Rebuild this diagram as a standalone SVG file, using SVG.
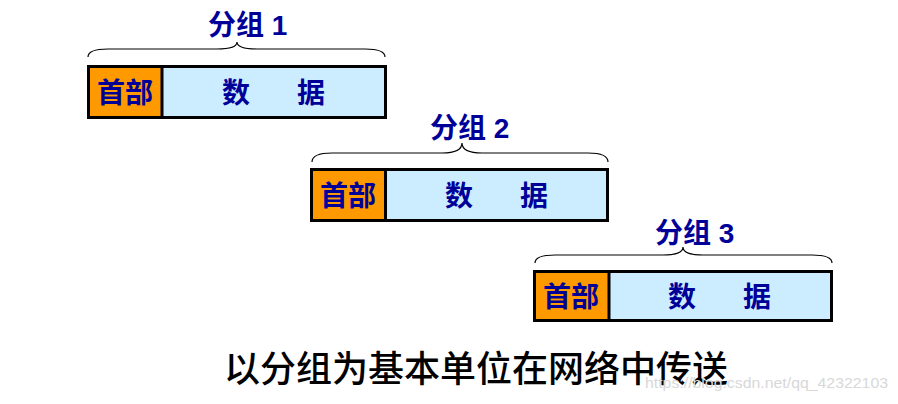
<svg xmlns="http://www.w3.org/2000/svg" width="898" height="404" viewBox="0 0 898 404">
<style>
.hdr{fill:#FF9900;stroke:#000;stroke-width:3}
.dat{fill:#CCECFF;stroke:#000;stroke-width:3}
.brace{fill:none;stroke:#000;stroke-width:1.2}
.lbl{font-family:"Liberation Sans","Noto Sans CJK SC",sans-serif;font-weight:bold;font-size:28px;fill:#000099}
.in{font-family:"Noto Sans CJK SC",sans-serif;font-weight:bold;font-size:28px;fill:#000099}
.cap{font-family:"Noto Sans CJK SC",sans-serif;font-weight:500;font-size:36px;fill:#000}
.wm{font-family:"Liberation Sans",sans-serif;font-size:15px;fill:#d8d8d8}
</style>
<rect width="898" height="404" fill="#fff"/>
<g id="connectors">
<path class="brace" d="M88,57 Q88,49 108,49 L217,49 Q237,49 237,42 Q237,49 257,49 L365,49 Q385,49 385,57"/>
<path class="brace" d="M312,162 Q312,153 332,153 L442,153 Q462,153 462,143 Q462,153 482,153 L588,153 Q608,153 608,162"/>
<path class="brace" d="M535,263 Q535,255 555,255 L663,255 Q683,255 683,247 Q683,255 703,255 L812,255 Q832,255 832,263"/>
</g>
<g id="packet1">
<text class="lbl" x="208" y="35">分组 1</text>
<rect class="dat" x="88.5" y="66.5" width="297" height="51"/>
<rect class="hdr" x="88.5" y="66.5" width="73.5" height="51"/>
<text class="in" x="97" y="103">首部</text>
<text class="in" y="103"><tspan x="222">数</tspan><tspan x="297">据</tspan></text>
</g>
<g id="packet2">
<text class="lbl" x="430" y="138">分组 2</text>
<rect class="dat" x="311.5" y="169.5" width="296" height="51"/>
<rect class="hdr" x="311.5" y="169.5" width="74" height="51"/>
<text class="in" x="320" y="206">首部</text>
<text class="in" y="206"><tspan x="445">数</tspan><tspan x="520">据</tspan></text>
</g>
<g id="packet3">
<text class="lbl" x="655" y="243">分组 3</text>
<rect class="dat" x="534.5" y="271.5" width="297" height="49"/>
<rect class="hdr" x="534.5" y="271.5" width="74.5" height="49"/>
<text class="in" x="543" y="307">首部</text>
<text class="in" y="307"><tspan x="668">数</tspan><tspan x="743">据</tspan></text>
</g>
<g id="caption">
<text class="cap" x="224" y="382">以分组为基本单位在网络中传送</text>
<text class="wm" x="645" y="388" textLength="243" lengthAdjust="spacingAndGlyphs">https://blog.csdn.net/qq_42322103</text>
</g>
</svg>
